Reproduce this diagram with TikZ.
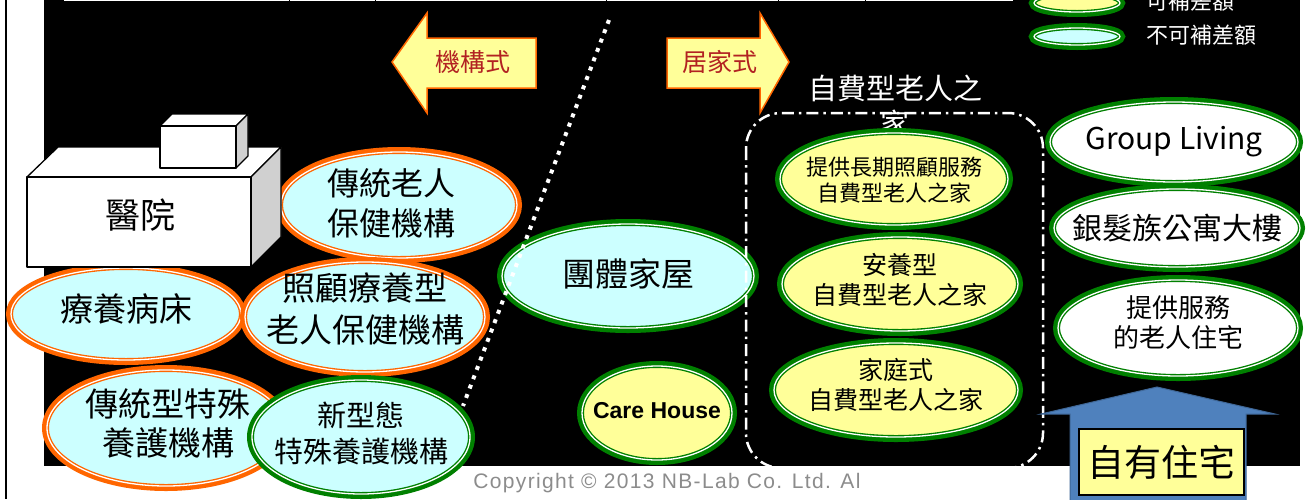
\documentclass[tikz,border=0pt]{standalone}
\usepackage{fontspec}
\setmainfont{Noto Sans CJK TC}
\newfontfamily\arialfont{Liberation Sans}
\newfontfamily\copyfont{Liberation Sans}[LetterSpace=6.4]
\usetikzlibrary{shapes.geometric}

\definecolor{orangeline}{HTML}{FF6600}
\definecolor{greenline}{HTML}{008000}
\definecolor{cyanfill}{HTML}{CCFFFF}
\definecolor{yellowfill}{HTML}{FFFF99}
\definecolor{arrowred}{HTML}{B22222}
\definecolor{homeblue}{HTML}{4F81BD}
\definecolor{sidegray}{HTML}{D0D0D0}
\definecolor{copygray}{HTML}{8C8C8C}

\tikzset{
  bubble/.style 2 args={ellipse, draw=#1, fill=#2, line width=4pt, inner sep=-60pt,
    preaction={draw=#1, line width=10pt}, postaction={draw=white, line width=1.3pt}},
  inst/.style={bubble={orangeline}{cyanfill}},
  notpaid/.style={bubble={greenline}{cyanfill}},
  paid/.style={bubble={greenline}{yellowfill}},
  house/.style={bubble={greenline}{white}},
  ellsize/.style 2 args={minimum width=#1pt, minimum height=#2pt},
  bubtext/.style={align=center, inner sep=0pt},
  face/.style={draw=black, line width=1.3pt, line join=round},
  arrowbox/.style={draw=orangeline, fill=yellowfill, line width=1.5pt, line join=miter},
  arrowlabel/.style={text=arrowred, font=\fontsize{25}{25}\selectfont},
  legendtext/.style={text=white, anchor=west, font=\fontsize{22}{22}\selectfont}
}

\begin{document}
\begin{tikzpicture}[x=1pt, y=-1pt]
\useasboundingbox (0,0) rectangle (1306,499);
\clip (0,0) rectangle (1306,499);
\fill[white] (0,0) rectangle (1306,499);

% frame and dark panel
\draw[black, line width=1.5pt] (6,0) -- (6,499);
\fill[black] (44,0) rectangle (1300,466);
\fill[white] (64,0) rectangle (1013,1.3);
\foreach \x in {289,375,606,778,865}
  \draw[black, line width=1pt] (\x,0) -- (\x,1.3);

% direction arrows
\draw[arrowbox] (392,62) -- (427,13) -- (427,38) -- (536,38) -- (536,88) -- (427,88) -- (427,113) -- cycle;
\node[arrowlabel] (inward) at (473,62) {機構式};
\draw[arrowbox] (789,62) -- (760,13) -- (760,38) -- (667,38) -- (667,88) -- (760,88) -- (760,113) -- cycle;
\node[arrowlabel] (homeward) at (720,62) {居家式};

% institutions
\node[inst, ellsize={236}{106}, label={[bubtext, font=\fontsize{32}{40}\selectfont, xshift=-8pt, yshift=1.5pt]center:{傳統老人\\保健機構}}] (tradold) at (399,205) {};
\node[inst, ellsize={230}{92}, label={[bubtext, font=\fontsize{33}{40}\selectfont, yshift=5pt]center:{療養病床}}] (ryoyo) at (126,314) {};
\node[inst, ellsize={240}{110}, label={[bubtext, font=\fontsize{33}{42}\selectfont, yshift=8pt]center:{照顧療養型\\老人保健機構}}] (carehealth) at (365,317) {};
\node[inst, ellsize={238}{116}, label={[bubtext, font=\fontsize{33}{39}\selectfont, xshift=2pt, yshift=5pt]center:{傳統型特殊\\養護機構}}] (tradspecial) at (166,428) {};
\node[notpaid, ellsize={218}{114}, label={[bubtext, font=\fontsize{29}{36}\selectfont, yshift=4pt]center:{新型態\\特殊養護機構}}] (newspecial) at (361,437) {};

% hospital block
\draw[face, fill=white] (27,177) -- (58,147) -- (281,147) -- (251,177) -- cycle;
\draw[face, fill=sidegray] (251,177) -- (281,147) -- (281,237) -- (251,267) -- cycle;
\draw[face, fill=white] (27,177) rectangle (251,267);
\draw[face, fill=white] (160,126) -- (172,114) -- (248,114) -- (236,126) -- cycle;
\draw[face, fill=sidegray] (236,126) -- (248,114) -- (248,156) -- (236,168) -- cycle;
\draw[face, fill=white] (160,126) rectangle (236,168);
\node[font=\fontsize{35}{35}\selectfont] (hospital) at (140,215) {醫院};

% group home and care house
\node[notpaid, ellsize={252}{104}, label={[bubtext, font=\fontsize{33}{33}\selectfont, yshift=2pt]center:{團體家屋}}] (grouphome) at (628,276) {};
\node[paid, ellsize={150}{94}, label={[bubtext, font=\arialfont\bfseries\fontsize{23}{23}\selectfont, yshift=2pt]center:{Care House}}] (carehouse) at (657,413) {};

% self-paid homes
\draw[white, line width=2.5pt, dash pattern=on 12pt off 5pt on 2.5pt off 5pt, rounded corners=35pt] (746,113) rectangle (1043,468);
\node[text=white, align=center, font=\fontsize{29}{35}\selectfont] (selftitle) at (895,105.5) {自費型老人之\\家};
\node[paid, ellsize={228}{92}, label={[bubtext, font=\fontsize{22}{26}\selectfont, yshift=-1pt]center:{提供長期照顧服務\\自費型老人之家}}] (selfcare) at (894,179) {};
\node[paid, ellsize={236}{94}, label={[bubtext, font=\fontsize{25}{30}\selectfont, yshift=4pt]center:{安養型\\自費型老人之家}}] (selfrest) at (900,284) {};
\node[paid, ellsize={244}{94}, label={[bubtext, font=\fontsize{25}{30}\selectfont, yshift=5pt]center:{家庭式\\自費型老人之家}}] (selffamily) at (896,390) {};

% legend
\node[paid, ellsize={86}{18}] (keypaid) at (1077,3) {};
\node[legendtext] (keypaidtext) at (1143,1) {可補差額};
\node[notpaid, ellsize={86}{17}] (keynotpaid) at (1077,36.5) {};
\node[legendtext] (keynotpaidtext) at (1143,35) {不可補差額};

% housing
\node[house, ellsize={248}{80}, label={[bubtext, font=\fontsize{30}{30}\selectfont]center:{Group Living}}] (groupliving) at (1174,142) {};
\node[house, ellsize={246}{78}, label={[bubtext, font=\fontsize{30}{30}\selectfont]center:{銀髮族公寓大樓}}] (silver) at (1177,228) {};
\node[house, ellsize={240}{96}, label={[bubtext, font=\fontsize{26}{30}\selectfont, yshift=5pt]center:{提供服務\\的老人住宅}}] (service) at (1178,328) {};

% own home arrow
\draw[fill=homeblue, draw=homeblue!80!black, line width=1pt] (1157,387) -- (1275,414) -- (1246,414) -- (1246,505) -- (1070,505) -- (1070,414) -- (1041,414) -- cycle;
\node[draw=black, fill=yellowfill, line width=1.3pt, minimum width=165pt, minimum height=66pt, font=\fontsize{37}{37}\selectfont] (ownhome) at (1161.5,462) {自有住宅};

% divider
\draw[white, line width=4pt, dash pattern=on 4pt off 6pt] (609,20) -- (463,406);

\node[text=copygray, font=\copyfont\fontsize{21}{21}\selectfont] (copyright) at (667,483) {Copyright © 2013 NB-Lab Co. Ltd. Al};
\end{tikzpicture}
\end{document}
